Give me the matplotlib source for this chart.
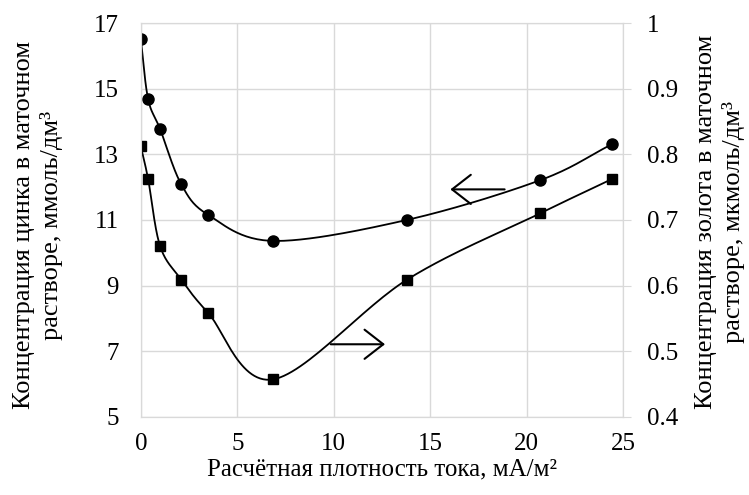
import matplotlib.pyplot as plt
import numpy as np

# данные
tok = [0, 0.38, 1.0, 2.1, 3.5, 6.85, 13.8, 20.7, 24.4]
cinka = [16.5, 14.68, 13.77, 12.08, 11.15, 10.36, 11.0, 12.21, 13.3]
zolota = [0.812, 0.762, 0.66, 0.609, 0.558, 0.457, 0.609, 0.71, 0.762]

x_ticks = [0, 5, 10, 15, 20, 25]
y1_ticks = [5, 7, 9, 11, 13, 15, 17]
y2_ticks = [0.4, 0.5, 0.6, 0.7, 0.8, 0.9, 1.0]
y2_labels = ["0.4", "0.5", "0.6", "0.7", "0.8", "0.9", "1"]


def sglazhivanie(x, y, n=30):
    # сглаживание кривой Катмулла-Рома (как в Excel)
    x = np.asarray(x, float)
    y = np.asarray(y, float)
    px = np.concatenate(([2 * x[0] - x[1]], x, [2 * x[-1] - x[-2]]))
    py = np.concatenate(([2 * y[0] - y[1]], y, [2 * y[-1] - y[-2]]))
    xs, ys = [], []
    t = np.linspace(0, 1, n)
    for i in range(1, len(px) - 2):
        for p, out in ((px, xs), (py, ys)):
            p0, p1, p2, p3 = p[i - 1], p[i], p[i + 1], p[i + 2]
            out.extend(0.5 * (2 * p1 + (-p0 + p2) * t
                              + (2 * p0 - 5 * p1 + 4 * p2 - p3) * t ** 2
                              + (-p0 + 3 * p1 - 3 * p2 + p3) * t ** 3))
    return xs, ys


plt.rcParams['font.family'] = ['Liberation Serif', 'DejaVu Serif']
fs = 18

fig = plt.figure(figsize=(7.49, 4.95), dpi=100)
ax = fig.add_axes([0.188, 0.158, 0.644, 0.7955])
ax2 = ax.twinx()

sx, sy = sglazhivanie(tok, cinka)
ax.plot(sx, sy, color="black", lw=1.3)
ax.plot(tok, cinka, "o", color="black", ms=8)

sx, sy = sglazhivanie(tok, zolota)
ax2.plot(sx, sy, color="black", lw=1.3)
ax2.plot(tok, zolota, "s", color="black", ms=7.5)

ax.set_xlim(0, 25)
ax.set_ylim(5, 17)
ax2.set_ylim(0.4, 1.0)
ax.set_xticks(x_ticks)
ax.set_yticks(y1_ticks)
ax2.set_yticks(y2_ticks)
ax2.set_yticklabels(y2_labels)

ax.grid(True, color="#d9d9d9", lw=1)
ax.set_axisbelow(True)
for a in (ax, ax2):
    for s in a.spines.values():
        s.set_color("#d9d9d9")
ax.tick_params(axis="y", length=0, labelsize=fs, pad=16)
ax.tick_params(axis="x", length=0, labelsize=fs, pad=12)
ax2.tick_params(axis="y", length=6, color="#d9d9d9", labelsize=fs, pad=11)

ax.set_xlabel("Расчётная плотность тока, мА/м²", fontsize=fs, labelpad=2)

# подписи осей Y
fig.text(0.051, 0.545, "Концентрация цинка в маточном\nрастворе, ммоль/дм³",
         rotation=90, ha="center", va="center", fontsize=19,
         multialignment="center", linespacing=1.3)
fig.text(0.961, 0.552, "Концентрация золота в маточном\nрастворе, мкмоль/дм³",
         rotation=90, ha="center", va="center", fontsize=19,
         multialignment="center", linespacing=1.3)

# стрелки-указатели осей
strelka = dict(arrowstyle="->, head_length=0.45, head_width=0.35",
               color="black", lw=1.5, mutation_scale=30)
ax.annotate("", xy=(15.9, 11.93), xytext=(19.0, 11.93), arrowprops=strelka)
ax.annotate("", xy=(12.8, 7.21), xytext=(9.7, 7.21), arrowprops=strelka)

fig.savefig("out.png", dpi=100)
